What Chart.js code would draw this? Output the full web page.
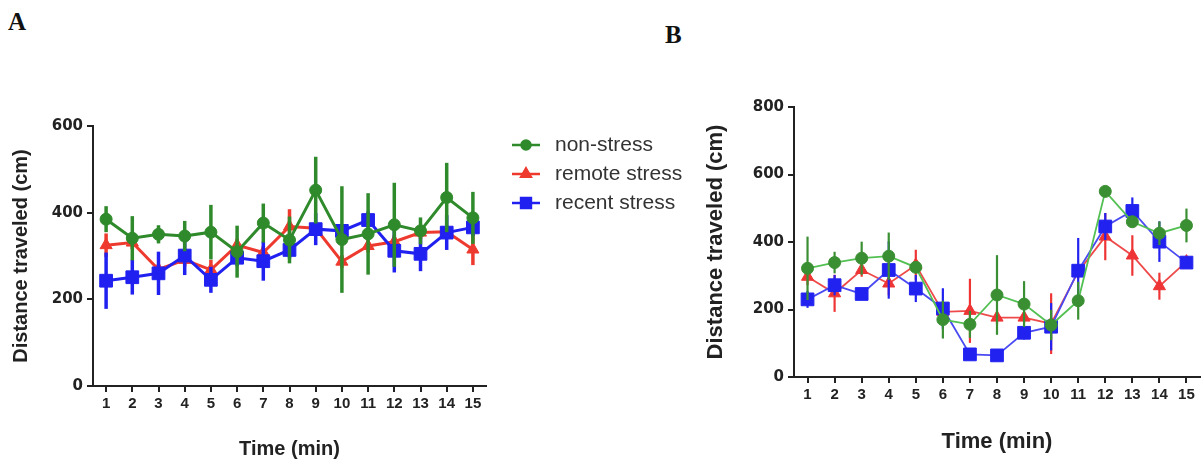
<!DOCTYPE html>
<html>
<head>
<meta charset="utf-8">
<script src="https://cdn.jsdelivr.net/npm/chart.js@4.4.1/dist/chart.umd.min.js"></script>
<style>
  html, body { margin: 0; padding: 0; background: #fff; }
  body { width: 1203px; height: 461px; position: relative; overflow: hidden; }
  canvas { position: absolute; top: 0; }
  #cA { left: 0; }
  #cB { left: 690px; }
  .plabel { position: absolute; font-family: "Liberation Serif", "DejaVu Serif", serif; font-weight: bold; font-size: 25px; color: #111; }
</style>
</head>
<body>
<div class="plabel" style="left:8px; top:8px;">A</div>
<div class="plabel" style="left:665px; top:21px;">B</div>
<canvas id="cA" width="700" height="461"></canvas>
<canvas id="cB" width="520" height="461"></canvas>
<script>
// ---------- data ----------
const minutes = ['1','2','3','4','5','6','7','8','9','10','11','12','13','14','15'];
const seriesNames = ['non-stress', 'remote stress', 'recent stress'];

// Panel A: means and SEM
const aNonStress      = [385, 341, 350, 346, 355, 310, 376, 337, 452, 338, 351, 372, 358, 435, 388];
const aNonStressErr   = [30, 51, 21, 35, 63, 60, 45, 54, 77, 123, 94, 97, 31, 80, 60];
const aRemoteStress   = [325, 331, 269, 291, 268, 325, 308, 368, 364, 287, 323, 333, 354, 356, 315];
const aRemoteErr      = [27, 15, 12, 15, 23, 15, 15, 40, 12, 15, 15, 15, 15, 12, 36];
const aRecentStress   = [243, 251, 260, 301, 245, 296, 288, 314, 362, 358, 383, 312, 305, 354, 366];
const aRecentErr      = [65, 40, 50, 45, 30, 20, 45, 20, 37, 15, 20, 50, 40, 40, 20];
const aTicks = [0, 200, 400, 600];

// Panel B: means and SEM
const bNonStress      = [322, 339, 352, 358, 325, 170, 156, 243, 216, 154, 226, 550, 460, 426, 449];
const bNonStressErr   = [94, 32, 49, 70, 15, 56, 40, 118, 68, 45, 56, 15, 15, 35, 50];
const bRemoteStress   = [297, 248, 317, 277, 332, 193, 196, 176, 176, 158, 312, 416, 360, 269, 342];
const bRemoteErr      = [25, 55, 20, 35, 45, 15, 95, 20, 15, 90, 20, 70, 60, 40, 15];
const bRecentStress   = [230, 272, 246, 317, 262, 203, 67, 64, 131, 149, 315, 446, 492, 401, 339];
const bRecentErr      = [25, 30, 15, 85, 40, 60, 15, 10, 20, 70, 97, 40, 40, 60, 15];
const bTicks = [0, 200, 400, 600, 800];

// ---------- helpers ----------
const FONT = '"Liberation Sans", Arial, sans-serif';
const YFONT = '"DejaVu Sans", "Liberation Sans", sans-serif';

const errorBars = {
  id: 'errorBars',
  beforeDatasetDraw(chart, args) {
    const ds = chart.data.datasets[args.index];
    if (!ds.errors) return;
    const meta = args.meta;
    const ys = chart.scales.y;
    const ctx = chart.ctx;
    ctx.save();
    ctx.strokeStyle = ds.errColor || ds.borderColor;
    ctx.lineWidth = ds.errWidth || 2;
    ctx.lineCap = 'butt';
    meta.data.forEach((pt, i) => {
      const v = ds.data[i], e = ds.errors[i];
      ctx.beginPath();
      ctx.moveTo(pt.x, ys.getPixelForValue(v + e));
      ctx.lineTo(pt.x, ys.getPixelForValue(Math.max(0, v - e)));
      ctx.stroke();
    });
    ctx.restore();
  }
};

const legendA = {
  id: 'legendA',
  afterDraw(chart) {
    const ctx = chart.ctx;
    const rows = [145, 174, 203];
    const radii = [4.5, 5.5, 7];
    ctx.save();
    chart.data.datasets.forEach((ds, i) => {
      const y = rows[i];
      ctx.strokeStyle = ds.borderColor;
      ctx.lineWidth = 2.5;
      ctx.beginPath(); ctx.moveTo(512, y); ctx.lineTo(540, y); ctx.stroke();
      ctx.fillStyle = ds.pointBackgroundColor;
      ctx.strokeStyle = ds.pointBorderColor;
      Chart.helpers.drawPoint(ctx, {pointStyle: ds.pointStyle, radius: radii[i], rotation: 0, borderWidth: 1}, 526, y);
      ctx.fillStyle = '#333';
      ctx.font = '21px ' + FONT;
      ctx.textBaseline = 'middle';
      ctx.textAlign = 'left';
      ctx.fillText(seriesNames[i], 555, y);
    });
    ctx.restore();
  }
};

function makeDataset(label, data, errs, color, markerColor, style, radius, lw, ew, order) {
  return {
    label, data, errors: errs,
    borderColor: color, backgroundColor: markerColor,
    pointBackgroundColor: markerColor, pointBorderColor: markerColor,
    pointStyle: style, pointRadius: radius, pointHoverRadius: radius,
    pointBorderWidth: 1, borderWidth: lw, errWidth: ew, errColor: markerColor,
    tension: 0, order
  };
}

function axisOptions(ticks, yWidth, xHeight, titleSize, yTitlePad) {
  const tickFont = { family: FONT, weight: 'bold', size: 15 };
  const yTickFont = { family: YFONT, weight: 'bold', size: 15 };
  const titleFont = { family: FONT, weight: 'bold', size: titleSize };
  return {
    x: {
      type: 'category', offset: true,
      grid: { display: true, drawOnChartArea: false, drawTicks: true, tickLength: 6, color: '#222', lineWidth: 2 },
      border: { display: true, color: '#222', width: 2 },
      ticks: { color: '#222', font: tickFont, padding: 3, maxRotation: 0, autoSkip: false },
      title: { display: true, text: 'Time (min)', color: '#222', font: titleFont, padding: { top: 0, bottom: 0 } },
      afterFit(s) { s.height = xHeight; }
    },
    y: {
      min: ticks[0], max: ticks[ticks.length - 1],
      afterBuildTicks(s) { s.ticks = ticks.map(v => ({ value: v })); },
      grid: { display: true, drawOnChartArea: false, drawTicks: true, tickLength: 6, color: '#222', lineWidth: 2 },
      border: { display: true, color: '#222', width: 2 },
      ticks: { color: '#222', font: yTickFont, padding: 4 },
      title: { display: true, text: 'Distance traveled (cm)', color: '#222', font: titleFont, padding: { top: yTitlePad, bottom: 0 } },
      afterFit(s) { s.width = yWidth; }
    }
  };
}

// ---------- Panel A ----------
new Chart(document.getElementById('cA'), {
  type: 'line',
  data: {
    labels: minutes,
    datasets: [
      makeDataset(seriesNames[0], aNonStress, aNonStressErr, '#2f8a2b', '#2f8a2b', 'circle', 6, 3, 3.5, 0),
      makeDataset(seriesNames[1], aRemoteStress, aRemoteErr, '#ee3a2e', '#ee3a2e', 'triangle', 7, 3, 3.5, 2),
      makeDataset(seriesNames[2], aRecentStress, aRecentErr, '#2020f0', '#2020f0', 'rect', 9, 3, 3.5, 1)
    ]
  },
  options: {
    responsive: false, animation: false, devicePixelRatio: 1,
    layout: { padding: { top: 126, left: 0, right: 214, bottom: 0 } },
    plugins: { legend: { display: false }, tooltip: { enabled: false } },
    scales: axisOptions(aTicks, 93, 75, 20, 9)
  },
  plugins: [errorBars, legendA]
});

// ---------- Panel B ----------
new Chart(document.getElementById('cB'), {
  type: 'line',
  data: {
    labels: minutes,
    datasets: [
      makeDataset(seriesNames[0], bNonStress, bNonStressErr, '#52c052', '#3a8f32', 'circle', 6, 1.8, 2.2, 0),
      makeDataset(seriesNames[1], bRemoteStress, bRemoteErr, '#ef4a4a', '#ee3434', 'triangle', 7, 1.8, 2.2, 2),
      makeDataset(seriesNames[2], bRecentStress, bRecentErr, '#4a4af2', '#2222f0', 'rect', 9, 1.8, 2.2, 1)
    ]
  },
  options: {
    responsive: false, animation: false, devicePixelRatio: 1,
    layout: { padding: { top: 107, left: 7, right: 3, bottom: 6 } },
    plugins: { legend: { display: false }, tooltip: { enabled: false } },
    scales: axisOptions(bTicks, 97, 78, 22, 6)
  },
  plugins: [errorBars]
});
</script>
</body>
</html>
